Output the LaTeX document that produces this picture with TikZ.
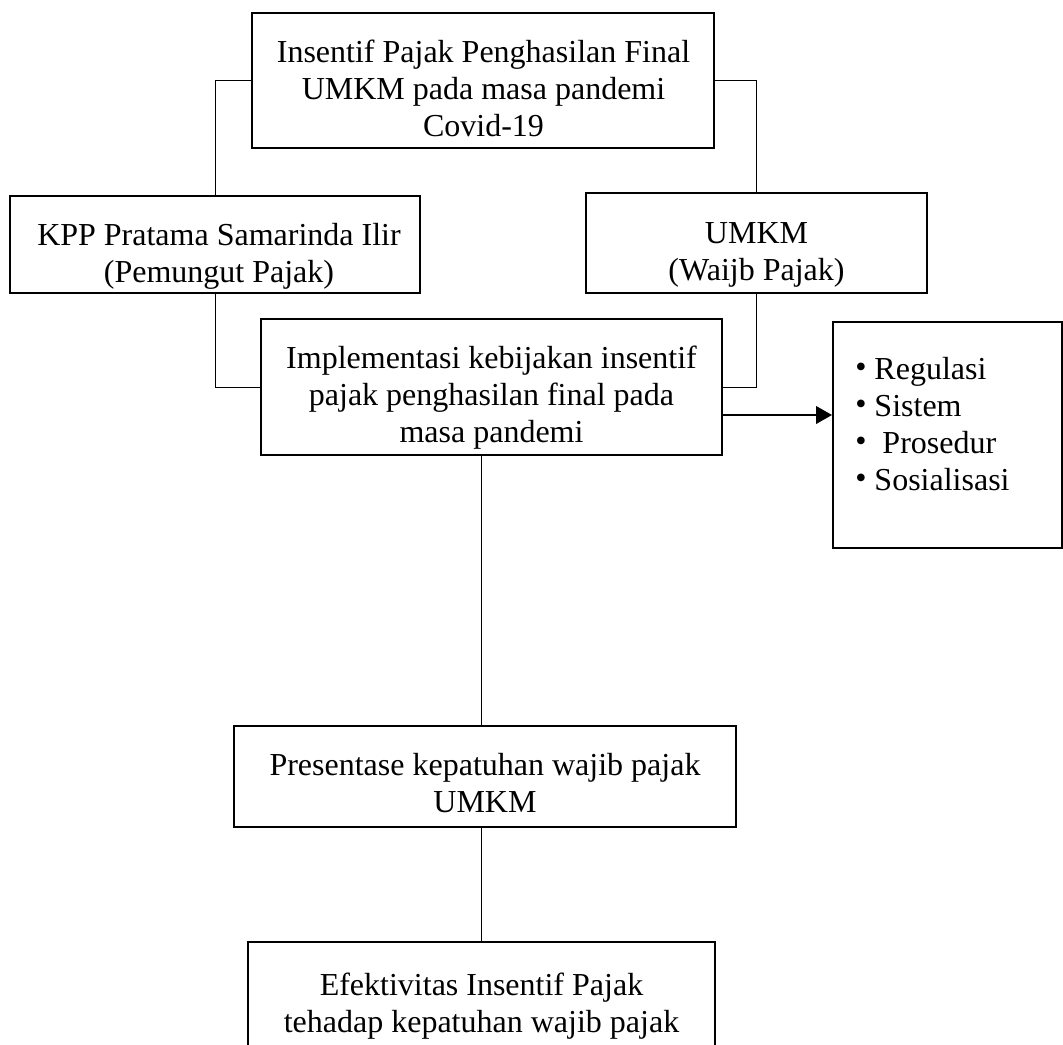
\documentclass[tikz,border=0pt]{standalone}
\usepackage{fontspec}
\setmainfont{Liberation Serif}
\usetikzlibrary{arrows.meta}
\newcommand{\firststrut}{\rule{0pt}{24pt}}
\newcommand{\blt}{\raisebox{1pt}{\textbullet}}
\tikzset{
  boxnode/.style={draw, line width=1.4pt, inner sep=0pt},
  txt/.style={anchor=north, align=center, inner sep=0pt, font=\fontsize{24}{27.75}\selectfont},
  conn/.style={line width=0.7pt},
  arrowline/.style={line width=2pt, -{Triangle[length=12pt,width=13pt]}}
}
\begin{document}
\begin{tikzpicture}[x=0.75pt,y=-0.75pt]
\clip (0,0) rectangle (1063,1045);
\fill[white] (0,0) rectangle (1063,1045);
% boxes
\node[boxnode, minimum width=346.5pt, minimum height=101.25pt] (top) at (483,80.5) {};
\node[boxnode, minimum width=307.5pt, minimum height=72.75pt] (kpp) at (215,244.5) {};
\node[boxnode, minimum width=255.75pt, minimum height=75pt] (umkm) at (756.5,243) {};
\node[boxnode, minimum width=345.75pt, minimum height=102pt] (impl) at (491.5,387) {};
\node[boxnode, minimum width=171.75pt, minimum height=169.5pt] (list) at (947.5,435) {};
\node[boxnode, minimum width=376.5pt, minimum height=75.75pt] (pres) at (485,776.5) {};
\node[boxnode, minimum width=350.25pt, minimum height=103.5pt] (efek) at (481.5,1011) {};
% texts
\node[txt] (toptext) at (483.5,30)
  {\firststrut Insentif Pajak Penghasilan Final\\UMKM pada masa pandemi\\Covid-19};
\node[txt] (kpptext) at (219,213)
  {\firststrut KPP Pratama Samarinda Ilir\\(Pemungut Pajak)};
\node[txt] (umkmtext) at (756.5,211)
  {\firststrut UMKM\\(Waijb Pajak)};
\node[txt] (impltext) at (491.5,336)
  {\firststrut Implementasi kebijakan insentif\\pajak penghasilan final pada\\masa pandemi};
\node[txt, anchor=north west, align=left] (listtext) at (855,347)
  {\firststrut\blt\ Regulasi\\\blt\ Sistem\\\blt\ \ Prosedur\\\blt\ Sosialisasi};
\node[txt] (prestext) at (485,743)
  {\firststrut Presentase kepatuhan wajib pajak\\UMKM};
\node[txt] (efektext) at (481.5,963)
  {\firststrut Efektivitas Insentif Pajak\\tehadap kepatuhan wajib pajak};
% connectors
\coordinate (arr) at (0,415);
\draw[conn] (top.west) -| (kpp.north);
\draw[conn] (top.east) -| (umkm.north);
\draw[conn] (kpp.south) |- (impl.west);
\draw[conn] (umkm.south) |- (impl.east);
\draw[arrowline] (impl.east |- arr) -- (list.west |- arr);
\draw[conn] (efek.north |- impl.south) -- (efek.north |- pres.north);
\draw[conn] (efek.north |- pres.south) -- (efek.north);
\end{tikzpicture}
\end{document}
